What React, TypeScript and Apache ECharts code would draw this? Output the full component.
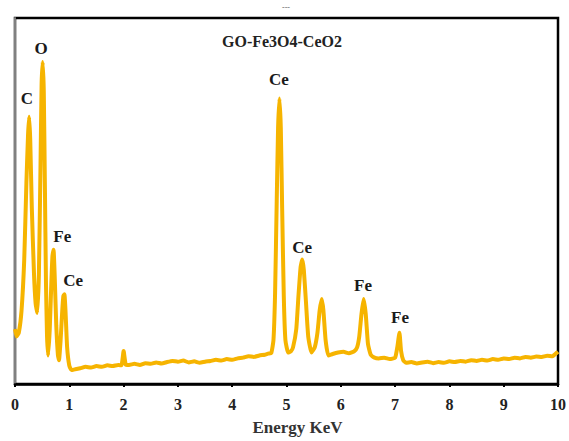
import React, { useEffect, useRef } from "react";
import * as echarts from "echarts";

const energy: number[] = [
  0.0, 0.03, 0.07, 0.12, 0.17, 0.21, 0.24, 0.26, 0.28, 0.31, 0.35, 0.38, 0.41, 0.44, 0.47, 0.49, 0.51,
  0.53, 0.55, 0.57, 0.59, 0.61, 0.64, 0.67, 0.69, 0.71, 0.73, 0.76, 0.79, 0.81, 0.84, 0.87, 0.89, 0.91,
  0.93, 0.96, 1.0, 1.04,
  1.1, 1.2, 1.3, 1.4, 1.5, 1.6, 1.7, 1.8, 1.9, 1.96, 2.0, 2.04, 2.1, 2.2, 2.3, 2.4, 2.5, 2.6, 2.7, 2.8,
  2.9, 3.0, 3.1, 3.2, 3.3, 3.4, 3.5, 3.6, 3.7, 3.8, 3.9, 4.0, 4.1, 4.2, 4.3, 4.4, 4.5, 4.6, 4.66,
  4.72, 4.76, 4.79, 4.82, 4.845, 4.87, 4.895, 4.92, 4.95, 4.98, 5.03, 5.08, 5.12, 5.18, 5.22, 5.26,
  5.29, 5.32, 5.36, 5.4, 5.46, 5.52, 5.57, 5.61, 5.65, 5.68, 5.72, 5.77, 5.85, 5.95, 6.05, 6.15, 6.25,
  6.3, 6.34, 6.38, 6.42, 6.46, 6.5, 6.55, 6.62, 6.7, 6.8, 6.9, 7.0, 7.04, 7.08, 7.11, 7.15,
  7.2, 7.3, 7.4, 7.5, 7.6, 7.7, 7.8, 7.9, 8.0, 8.1, 8.2, 8.3, 8.4, 8.5, 8.6, 8.7, 8.8, 8.9, 9.0,
  9.1, 9.2, 9.3, 9.4, 9.5, 9.6, 9.7, 9.8, 9.9, 9.95, 10.0,
];

const counts: number[] = [
  15, 13, 14, 20, 34, 55, 68, 73, 67, 48, 30, 22, 19.4, 30, 60, 82, 88,
  80, 55, 28, 13, 7.8, 15, 28, 35, 36.7, 30, 16, 8, 6.5, 12, 20, 24, 24.5,
  20, 10, 5, 3.8,
  4.0, 4.3, 4.7, 4.5, 4.9, 4.7, 5.1, 4.9, 5.2, 5.1, 9.0, 5.3, 5.2, 5.5, 5.2, 5.7, 5.5, 5.9, 5.6, 6.0,
  6.3, 6.1, 6.4, 5.9, 6.2, 5.8, 6.1, 6.3, 6.6, 6.4, 6.8, 6.6, 7.0, 7.2, 7.6, 7.4, 7.8, 8.0, 8.3,
  8.5, 12, 25, 50, 70, 78, 70, 48, 24, 12, 8.6, 8.9, 10, 15, 24, 32,
  34, 31, 22, 13, 8.6, 10, 14, 20, 23.2, 20, 12, 7.8, 8.2, 8.6, 8.8, 8.4, 9.0,
  10, 13, 19, 23.2, 19, 11, 8.0, 7.2, 7.0, 7.2, 6.8, 7.2, 10, 14, 9, 6.5,
  5.8, 6.0, 5.6, 5.9, 6.1, 5.7, 6.0, 5.8, 6.2, 6.0, 6.3, 6.1, 6.5, 6.3, 6.6, 6.4, 6.8, 6.6, 7.0,
  6.8, 7.2, 7.0, 7.4, 7.2, 7.5, 7.4, 7.7, 7.6, 8.2, 8.8,
];

const peakNames: string[] = ["C", "O", "Fe", "Ce", "Ce", "Ce", "Fe", "Fe"];
const peakLabelX: number[] = [0.22, 0.48, 0.87, 1.07, 4.86, 5.29, 6.41, 7.09];
const peakLabelY: number[] = [77.9, 91.6, 40.2, 28.3, 83.3, 37.2, 27.0, 18.3];

const xTicks: number[] = [0, 1, 2, 3, 4, 5, 6, 7, 8, 9, 10];
const sampleName = "GO-Fe3O4-CeO2";
const xName = "Energy KeV";

const SERIF = "'Liberation Serif', 'DejaVu Serif', serif";

export default function App() {
  const ref = useRef<HTMLDivElement>(null);
  useEffect(() => {
    if (!ref.current) return;
    const chart = echarts.init(ref.current, null, { renderer: "svg" });
    const lineData = energy.map((e, i) => [e, counts[i]]);
    const markData = peakNames.map((n, i) => ({
      name: n,
      coord: [peakLabelX[i], peakLabelY[i]],
      value: n,
    }));
    chart.setOption({
      animation: false,
      backgroundColor: "#ffffff",
      grid: {
        left: 15,
        right: 11,
        top: 18,
        bottom: 52,
        show: true,
        borderColor: "#000",
        borderWidth: 2.5,
        backgroundColor: "transparent",
      },
      xAxis: {
        type: "value",
        min: xTicks[0],
        max: xTicks[xTicks.length - 1],
        interval: 1,
        name: xName,
        nameLocation: "middle",
        nameGap: 35,
        nameTextStyle: {
          fontFamily: SERIF,
          fontWeight: "bold",
          fontSize: 17,
          color: "#333",
          padding: [0, 0, 0, 22],
        },
        splitLine: { show: false },
        axisLine: { lineStyle: { color: "#000", width: 2.5 } },
        axisTick: { show: true, length: 3, lineStyle: { color: "#000", width: 2 } },
        axisLabel: {
          margin: 12,
          fontFamily: SERIF,
          fontWeight: "bold",
          fontSize: 16,
          color: "#222",
        },
      },
      yAxis: {
        type: "value",
        min: 0,
        max: 100,
        splitLine: { show: false },
        axisLine: { show: true, lineStyle: { color: "#808080", width: 2 } },
        axisTick: { show: false },
        axisLabel: { show: false },
      },
      graphic: [
        {
          type: "text",
          left: 222,
          top: 33,
          style: {
            text: sampleName,
            fontFamily: SERIF,
            fontWeight: "bold",
            fontSize: 16,
            fill: "#222",
          },
        },
        {
          type: "text",
          left: 282,
          top: 3,
          style: {
            text: "---",
            fontFamily: SERIF,
            fontSize: 8,
            fill: "#666",
          },
        },
      ],
      series: [
        {
          type: "line",
          data: lineData,
          showSymbol: false,
          smooth: 0.15,
          lineStyle: { color: "#F6B400", width: 4 },
          z: 3,
          markPoint: {
            symbol: "circle",
            symbolSize: 0,
            silent: true,
            label: {
              show: true,
              position: "inside",
              formatter: (p: any) => p.name,
              fontFamily: SERIF,
              fontWeight: "bold",
              fontSize: 17,
              color: "#1a1a1a",
            },
            data: markData,
          },
        },
      ],
    });
    return () => chart.dispose();
  }, []);
  return (
    <div
      ref={ref}
      style={{ position: "absolute", left: 0, top: 0, width: 569, height: 441 }}
    />
  );
}
